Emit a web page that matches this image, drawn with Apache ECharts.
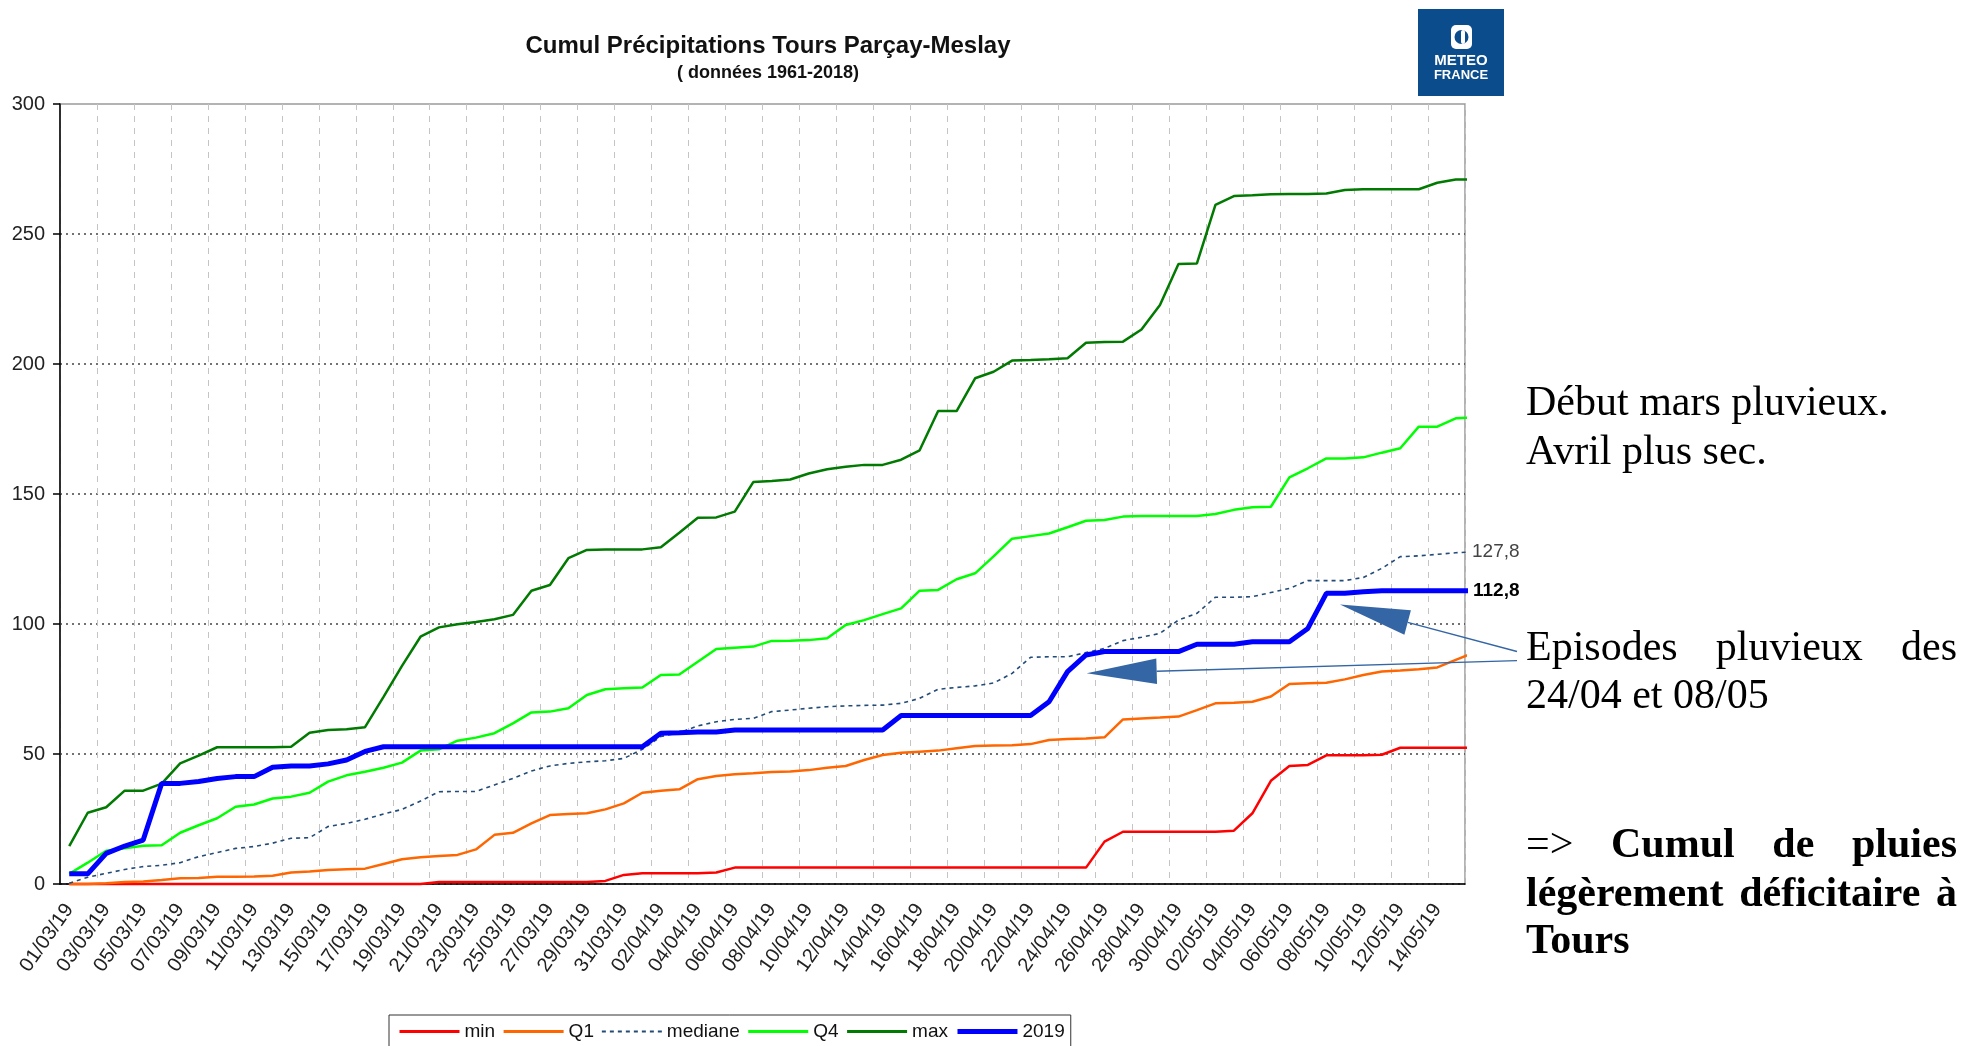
<!DOCTYPE html>
<html><head><meta charset="utf-8">
<script src="https://cdn.jsdelivr.net/npm/echarts@6/dist/echarts.min.js"></script>
<style>html,body{margin:0;padding:0;background:#fff}#c{width:1963px;height:1046px}</style>
</head><body><div id="c"></div>
<script>
const dates = [
'01/03/19','02/03/19','03/03/19','04/03/19','05/03/19','06/03/19','07/03/19','08/03/19','09/03/19','10/03/19',
'11/03/19','12/03/19','13/03/19','14/03/19','15/03/19','16/03/19','17/03/19','18/03/19','19/03/19','20/03/19',
'21/03/19','22/03/19','23/03/19','24/03/19','25/03/19','26/03/19','27/03/19','28/03/19','29/03/19','30/03/19','31/03/19',
'01/04/19','02/04/19','03/04/19','04/04/19','05/04/19','06/04/19','07/04/19','08/04/19','09/04/19','10/04/19',
'11/04/19','12/04/19','13/04/19','14/04/19','15/04/19','16/04/19','17/04/19','18/04/19','19/04/19','20/04/19',
'21/04/19','22/04/19','23/04/19','24/04/19','25/04/19','26/04/19','27/04/19','28/04/19','29/04/19','30/04/19',
'01/05/19','02/05/19','03/05/19','04/05/19','05/05/19','06/05/19','07/05/19','08/05/19','09/05/19','10/05/19',
'11/05/19','12/05/19','13/05/19','14/05/19','15/05/19','16/05/19'];

const minVals = [0,0,0,0,0,0,0,0,0,0, 0,0,0,0,0,0,0,0,0,0,
 0.8,0.8,0.8,0.8,0.8,0.8,0.8,0.8,0.8,1.2, 3.5,4.1,4.1,4.1,4.1,4.4,6.3,6.3,6.3,6.3,
 6.3,6.3,6.3,6.3,6.3,6.3,6.3,6.3,6.3,6.3, 6.3,6.3,6.3,6.3,6.3,6.3,16.3,20.1,20.1,20.1,
 20.1,20.1,20.1,20.5,27.2,39.7,45.4,45.8,49.5,49.5, 49.5,49.7,52.4,52.4,52.4,52.4,52.4];
const q1Vals = [0,0,0.3,0.8,1.0,1.5,2.2,2.3,2.8,2.8, 2.9,3.2,4.4,4.8,5.4,5.7,5.9,7.7,9.5,10.3,
 10.8,11.2,13.3,18.9,19.7,23.3,26.5,26.9,27.2,28.7, 31.0,35.1,35.9,36.4,40.3,41.5,42.2,42.6,43.1,43.3,
 43.8,44.7,45.4,47.7,49.6,50.5,50.9,51.3,52.2,53.1, 53.3,53.4,53.8,55.4,55.8,56.0,56.4,63.3,63.7,64.0,
 64.4,66.9,69.5,69.7,70.1,72.1,76.9,77.2,77.4,78.7, 80.4,81.7,82.1,82.6,83.3,86.2,89.0];
const medVals = [0.3,2.6,4.1,5.6,6.7,7.2,8.2,10.5,12.1,13.7, 14.4,15.7,17.6,17.8,22.1,23.3,24.9,26.9,28.7,31.9,
 35.5,35.6,35.6,38.1,40.6,43.5,45.4,46.4,47.0,47.4, 48.3,51.8,56.7,58.2,60.8,62.4,63.3,63.7,66.3,66.9,
 67.6,68.2,68.5,68.7,68.8,69.5,71.4,74.9,75.6,76.2, 77.3,81.0,87.2,87.4,87.4,89.0,90.6,93.6,94.9,96.4,
 101.5,104.1,110.3,110.3,110.5,112.1,113.7,116.7,116.7,116.7, 117.9,121.4,125.9,126.2,126.8,127.4,127.8];
const q4Vals = [3.9,8.2,12.8,13.7,14.7,14.9,19.7,22.6,25.3,29.7, 30.6,32.9,33.6,35.1,39.4,41.8,43.2,44.7,46.7,51.3,
 51.8,55.1,56.3,58.0,61.8,66.0,66.3,67.6,72.7,74.9, 75.3,75.6,80.4,80.6,85.5,90.4,90.9,91.3,93.5,93.6,
 93.8,94.5,99.6,101.5,103.8,106.0,112.8,113.1,117.2,119.5, 126.0,132.8,133.8,134.8,137.2,139.7,140.0,141.3,141.5,141.5,
 141.5,141.5,142.3,143.9,144.9,145.1,156.4,159.9,163.7,163.7, 164.1,165.9,167.6,175.9,175.9,179.1,179.4];
const maxVals = [14.6,27.4,29.5,35.9,35.9,38.6,46.4,49.4,52.6,52.6, 52.6,52.6,52.8,58.2,59.2,59.5,60.3,72.0,83.9,95.1,
 98.7,99.9,100.8,101.8,103.5,112.8,115.0,125.3,128.5,128.7, 128.7,128.7,129.5,135.1,140.9,141.0,143.2,154.6,155.0,155.6,
 157.9,159.5,160.5,161.2,161.2,163.2,166.8,181.9,181.9,194.5, 197.0,201.3,201.5,201.8,202.2,208.2,208.5,208.6,213.3,222.7,
 238.5,238.7,261.2,264.6,264.9,265.3,265.4,265.4,265.6,266.9, 267.2,267.2,267.2,267.2,269.7,271.0,271.0];
const y2019 = [3.9,3.9,11.8,14.6,16.9,38.7,38.7,39.4,40.6,41.3, 41.3,44.9,45.4,45.4,46.2,47.7,51.0,52.8,52.8,52.8,
 52.8,52.8,52.8,52.8,52.8,52.8,52.8,52.8,52.8,52.8, 52.8,52.8,58.0,58.2,58.5,58.5,59.2,59.2,59.2,59.2,
 59.2,59.2,59.2,59.2,59.2,64.8,64.8,64.8,64.8,64.8, 64.8,64.8,64.8,70.1,81.7,88.1,89.4,89.4,89.4,89.4,
 89.4,92.2,92.2,92.2,93.2,93.2,93.2,98.3,111.8,111.8, 112.4,112.8,112.8,112.8,112.8,112.8,112.8];

const seriesNames = ['min','Q1','mediane','Q4','max','2019'];
const SANS = '"Liberation Sans", Arial, sans-serif';
const SERIF = '"Liberation Serif", "Times New Roman", serif';

const chart = echarts.init(document.getElementById('c'));
const fmt = v => v.toFixed(1).replace('.', ',');
const last = arr => arr[arr.length - 1];

function lineSeries(name, data, color, width, extra) {
  return Object.assign({
    name, type: 'line', data, symbol: 'none', showSymbol: false,
    lineStyle: { color, width }, itemStyle: { color }, clip: false, z: 3
  }, extra || {});
}

// ---------- annotation graphics ----------
const mctx = document.createElement('canvas').getContext('2d');
function tw(text, font) { mctx.font = font; return mctx.measureText(text).width; }
const TX0 = 1526, TX1 = 1957, FS = 42;
function fontOf(bold) { return (bold ? 'bold ' : '') + FS + 'px ' + SERIF; }
const graphics = [];
function textLine(words, y, justify) {
  if (!justify) {
    let x = TX0;
    words.forEach(([w, b]) => {
      graphics.push({ type: 'text', x, y, style: { text: w, font: fontOf(b), fill: '#000', textVerticalAlign: 'middle' } });
      x += tw(w, fontOf(b)) + tw(' ', fontOf(b));
    });
    return;
  }
  const widths = words.map(([w, b]) => tw(w, fontOf(b)));
  const total = widths.reduce((a, c) => a + c, 0);
  const gap = (TX1 - TX0 - total) / (words.length - 1);
  let x = TX0;
  words.forEach(([w, b], i) => {
    graphics.push({ type: 'text', x, y, style: { text: w, font: fontOf(b), fill: '#000', textVerticalAlign: 'middle' } });
    x += widths[i] + gap;
  });
}
textLine([['Début mars pluvieux.', false]], 404, false);
textLine([['Avril plus sec.', false]], 453, false);
textLine([['Episodes', false], ['pluvieux', false], ['des', false]], 649, true);
textLine([['24/04 et 08/05', false]], 697, false);
textLine([['=>', false], ['Cumul', true], ['de', true], ['pluies', true]], 846, true);
textLine([['légèrement', true], ['déficitaire', true], ['à', true]], 895, true);
textLine([['Tours', true]], 942, false);

function arrow(tip, tail) {
  const dx = tail[0] - tip[0], dy = tail[1] - tip[1];
  const L = Math.hypot(dx, dy), ux = dx / L, uy = dy / L;
  const hl = 70, hw = 12.7;
  const bx = tip[0] + ux * hl, by = tip[1] + uy * hl;
  graphics.push({ type: 'line', shape: { x1: bx, y1: by, x2: tail[0], y2: tail[1] }, style: { stroke: '#3465a4', lineWidth: 1.3 }, z: 20 });
  graphics.push({ type: 'polygon', shape: { points: [tip, [bx - uy * hw, by + ux * hw], [bx + uy * hw, by - ux * hw]] }, style: { fill: '#3465a4' }, z: 20 });
}
arrow([1340, 604.5], [1517, 651.5]);
arrow([1086.7, 673.3], [1517, 660.6]);

// title
graphics.push({ type: 'text', x: 768, y: 46, style: { text: 'Cumul Précipitations Tours Parçay-Meslay', font: 'bold 24px ' + SANS, fill: '#111', textAlign: 'center', textVerticalAlign: 'middle' } });
graphics.push({ type: 'text', x: 768, y: 73, style: { text: '( données 1961-2018)', font: 'bold 18px ' + SANS, fill: '#111', textAlign: 'center', textVerticalAlign: 'middle' } });

// logo
graphics.push({ type: 'rect', shape: { x: 1418, y: 9, width: 86, height: 87 }, style: { fill: '#0b4c8c' } });
graphics.push({ type: 'rect', shape: { x: 1451, y: 25, width: 21, height: 24, r: 5 }, style: { fill: '#fff' } });
graphics.push({ type: 'circle', shape: { cx: 1461.5, cy: 37, r: 7 }, style: { fill: '#0b4c8c' } });
graphics.push({ type: 'rect', shape: { x: 1461, y: 30, width: 4, height: 14, r: 2 }, style: { fill: '#fff' } });
graphics.push({ type: 'text', x: 1461, y: 61, style: { text: 'METEO', font: 'bold 15px ' + SANS, fill: '#fff', textAlign: 'center', textVerticalAlign: 'middle' } });
graphics.push({ type: 'text', x: 1461, y: 75, style: { text: 'FRANCE', font: 'bold 13px ' + SANS, fill: '#fff', textAlign: 'center', textVerticalAlign: 'middle' } });

const legendWidths = { 'min': 3, 'Q1': 3, 'mediane': 1.8, 'Q4': 3, 'max': 3, '2019': 5 };

const option = {
  animation: false,
  backgroundColor: '#fff',
  grid: { left: 60, right: 498, top: 104, bottom: 162, show: true, borderColor: '#9a9a9a', borderWidth: 1.5 },
  legend: {
    data: seriesNames.map(n => ({ name: n, lineStyle: { width: legendWidths[n] } })),
    left: 389, top: 1015, orient: 'horizontal',
    padding: [7, 6, 7, 9], itemGap: 7, itemWidth: 60, itemHeight: 14,
    borderColor: '#333', borderWidth: 1,
    itemStyle: { opacity: 0 },
    textStyle: { fontSize: 19, fontFamily: SANS, color: '#111' }
  },
  xAxis: {
    type: 'category', data: dates, max: 75, boundaryGap: true,
    axisLine: { lineStyle: { color: '#000', width: 1.5 } },
    axisTick: { interval: 1, length: 7, lineStyle: { color: '#000', width: 1.5 } },
    axisLabel: { interval: 1, rotate: 55, fontSize: 20, fontFamily: SANS, color: '#222', margin: 22 },
    splitLine: { show: true, interval: 1, lineStyle: { color: '#c4c4c4', width: 1, type: [6, 6] } }
  },
  yAxis: {
    type: 'value', min: 0, max: 300, interval: 50,
    axisLine: { show: true, lineStyle: { color: '#000', width: 1.5 } },
    axisTick: { show: true, length: 7, lineStyle: { color: '#000', width: 1.5 } },
    axisLabel: { fontSize: 20, fontFamily: SANS, color: '#222', margin: 15 },
    splitLine: { show: true, lineStyle: { color: ['#444', '#444', '#444', '#444', '#444', '#444', 'rgba(0,0,0,0)'], width: 1.5, type: [2, 4] } }
  },
  series: [
    lineSeries('min', minVals, '#ff0000', 2.5),
    lineSeries('Q1', q1Vals, '#ff6600', 2.5),
    lineSeries('mediane', medVals, '#234b78', 1.6, {
      clip: true, lineStyle: { color: '#234b78', width: 1.6, type: [4, 4] },
      endLabel: { show: true, formatter: () => fmt(last(medVals)), color: '#444', fontSize: 19, fontFamily: SANS, distance: 5 }
    }),
    lineSeries('Q4', q4Vals, '#00ff00', 2.5),
    lineSeries('max', maxVals, '#007a00', 2.5),
    lineSeries('2019', y2019, '#0000ff', 5, {
      clip: true, z: 4,
      endLabel: { show: true, formatter: () => fmt(last(y2019)), color: '#000', fontWeight: 'bold', fontSize: 19, fontFamily: SANS, distance: 5 }
    })
  ],
  graphic: graphics
};
chart.setOption(option);
</script></body></html>
